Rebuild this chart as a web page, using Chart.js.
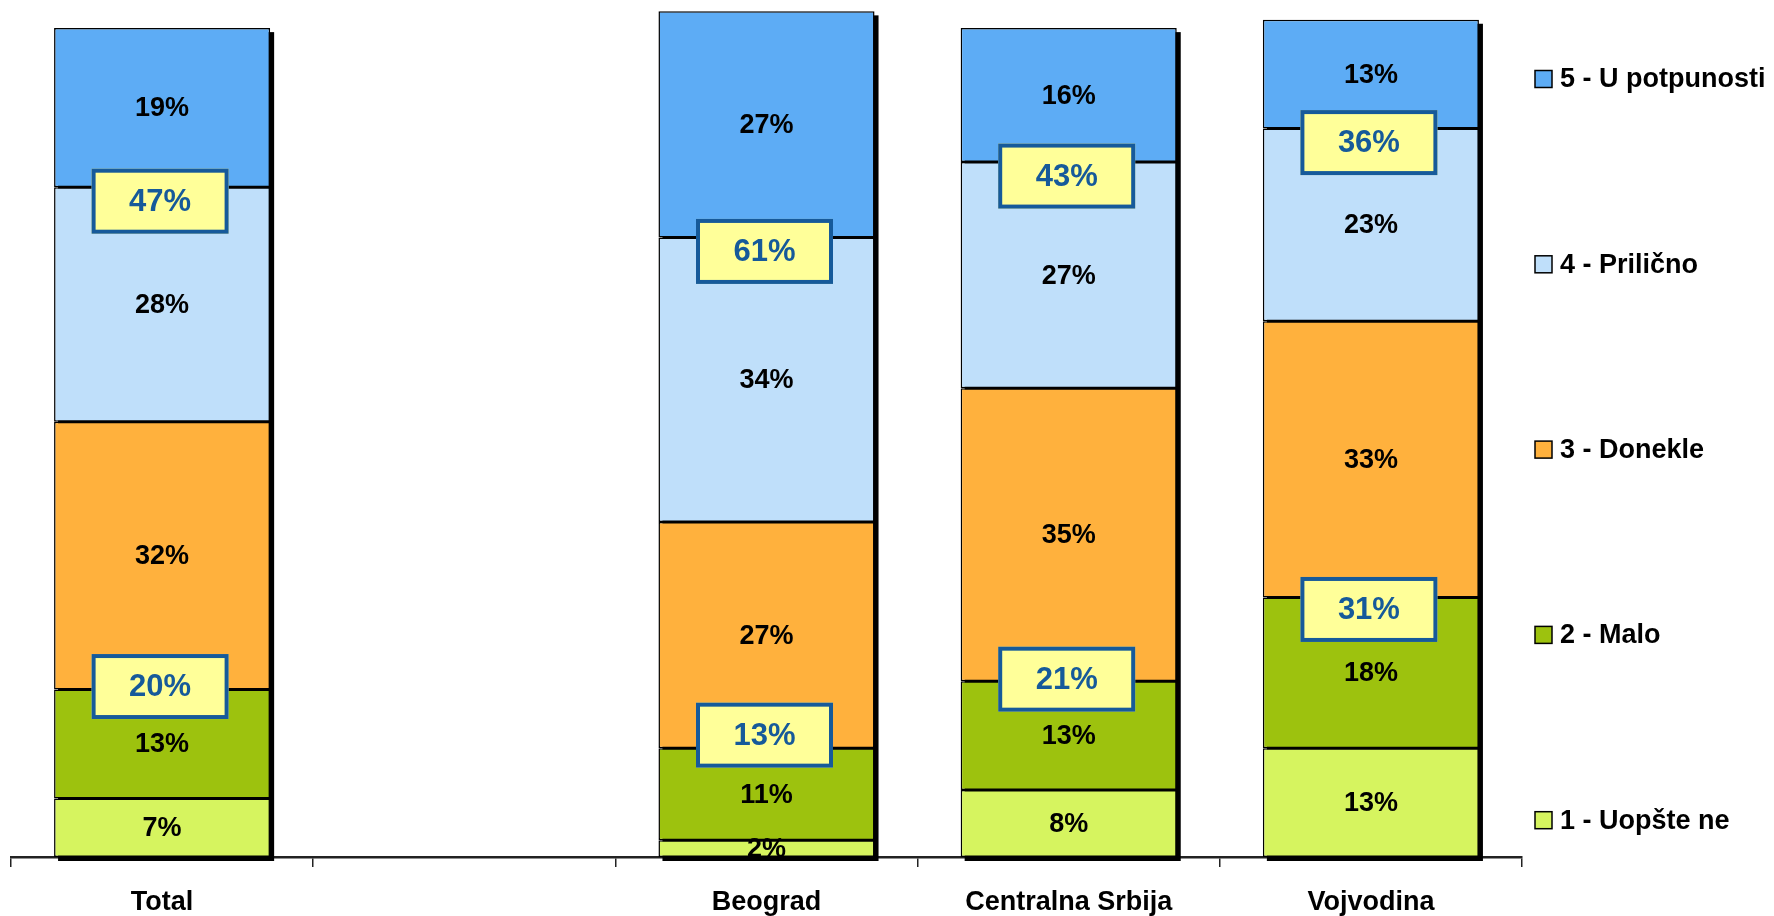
<!DOCTYPE html>
<html>
<head>
<meta charset="utf-8">
<title>Stacked bars</title>
<script src="https://cdn.jsdelivr.net/npm/chart.js@4.4.1/dist/chart.umd.min.js"></script>
<style>
  html, body { margin: 0; padding: 0; background: #fff; }
  canvas { display: block; }
</style>
</head>
<body>
<canvas id="chart" width="1774" height="916"></canvas>
<script>
const categories = ['Total', '', 'Beograd', 'Centralna Srbija', 'Vojvodina'];
const seriesNames = ['1 - Uopšte ne', '2 - Malo', '3 - Donekle', '4 - Prilično', '5 - U potpunosti'];
const uopsteNe = [7, null, 2, 8, 13];
const malo = [13, null, 11, 13, 18];
const donekle = [32, null, 27, 35, 33];
const prilicno = [28, null, 34, 27, 23];
const uPotpunosti = [19, null, 27, 16, 13];
// summed shares shown in the yellow boxes
const topTwo = [47, null, 61, 43, 36];
const bottomTwo = [20, null, 13, 21, 31];

const colors = ['#d6f45f', '#9dc20e', '#ffb13d', '#bfdffa', '#5dacf5'];
const FONT = "'Liberation Sans', Arial, sans-serif";
// hand-placed boxes in the original: small vertical nudges (px) for the lower box
const lowerBoxNudge = [-3, 0, -13, -2, 12];

const shadowPlugin = {
  id: 'shadow',
  beforeDatasetsDraw(chart) {
    const ctx = chart.ctx;
    const n = chart.data.labels.length;
    ctx.save();
    ctx.fillStyle = '#000';
    for (let i = 0; i < n; i++) {
      let top = Infinity, left = 0, width = 0, base = 0;
      chart.data.datasets.forEach((ds, d) => {
        const el = chart.getDatasetMeta(d).data[i];
        if (ds.data[i] == null || !el) return;
        if (el.y < top) top = el.y;
        left = el.x - el.width / 2; width = el.width; base = chart.scales.y.getPixelForValue(0);
      });
      if (top === Infinity) continue;
      ctx.fillRect(left + 4, top + 4, width, base - top + 0);
    }
    ctx.restore();
  }
};

const labelPlugin = {
  id: 'segLabels',
  afterDatasetsDraw(chart) {
    const ctx = chart.ctx;
    const a = chart.chartArea;
    ctx.save();
    ctx.beginPath();
    ctx.rect(a.left, a.top, a.right - a.left, a.bottom - a.top);
    ctx.clip();
    ctx.font = `bold 27px ${FONT}`;
    ctx.fillStyle = '#000';
    ctx.textAlign = 'center';
    ctx.textBaseline = 'middle';
    chart.data.datasets.forEach((ds, d) => {
      chart.getDatasetMeta(d).data.forEach((el, i) => {
        const v = ds.data[i];
        if (v == null) return;
        ctx.fillText(v + '%', el.x, (el.y + el.base) / 2 + 1);
      });
    });
    ctx.restore();

    // yellow boxes with the sums
    const drawBox = (x, y, txt) => {
      const w = 137, h = 65;
      ctx.save();
      ctx.fillStyle = '#ffff99';
      ctx.fillRect(x - w / 2, y - h / 2, w, h);
      ctx.lineWidth = 4;
      ctx.strokeStyle = '#165a9a';
      ctx.strokeRect(x - w / 2 + 2, y - h / 2 + 2, w - 4, h - 4);
      ctx.font = `bold 31px ${FONT}`;
      ctx.fillStyle = '#165a9a';
      ctx.textAlign = 'center';
      ctx.textBaseline = 'middle';
      ctx.fillText(txt, x, y + 1);
      ctx.restore();
    };
    const upper = chart.getDatasetMeta(3).data;
    const lower = chart.getDatasetMeta(1).data;
    topTwo.forEach((v, i) => {
      if (v == null) return;
      drawBox(upper[i].x - 2, upper[i].y + 14, v + '%');
    });
    bottomTwo.forEach((v, i) => {
      if (v == null) return;
      drawBox(lower[i].x - 2, lower[i].y + lowerBoxNudge[i], v + '%');
    });
  }
};

const legendPlugin = {
  id: 'sideLegend',
  afterDraw(chart) {
    const ctx = chart.ctx;
    ctx.save();
    ctx.font = `bold 27px ${FONT}`;
    ctx.textBaseline = 'middle';
    ctx.textAlign = 'left';
    const ds = chart.data.datasets;
    for (let k = 0; k < ds.length; k++) {
      const d = ds[ds.length - 1 - k];
      const y = 79 + k * 185.3;
      ctx.fillStyle = d.backgroundColor;
      ctx.fillRect(1535, y - 8.5, 17, 17);
      ctx.lineWidth = 1.5;
      ctx.strokeStyle = '#000';
      ctx.strokeRect(1535, y - 8.5, 17, 17);
      ctx.fillStyle = '#000';
      ctx.fillText(d.label, 1560, y + 1);
    }
    ctx.restore();
  }
};

const seriesValues = [uopsteNe, malo, donekle, prilicno, uPotpunosti];

new Chart(document.getElementById('chart'), {
  type: 'bar',
  data: {
    labels: categories,
    datasets: seriesNames.map((name, i) => ({
      label: name,
      data: seriesValues[i],
      backgroundColor: colors[i],
      borderColor: '#000',
      borderWidth: 1.5,
      borderSkipped: false,
      barPercentage: 0.715,
      categoryPercentage: 1
    }))
  },
  options: {
    responsive: false,
    animation: false,
    layout: { padding: { top: 3, right: 252, left: 11, bottom: 0 } },
    plugins: { legend: { display: false }, tooltip: { enabled: false } },
    scales: {
      x: {
        stacked: true,
        afterFit(scale) { scale.height = 59; },
        grid: { display: true, drawOnChartArea: false, drawTicks: true, tickLength: 10, color: '#222', lineWidth: 1.5, offset: true },
        border: { display: true, color: '#222', width: 2.5 },
        ticks: { color: '#000', font: { family: FONT, size: 27, weight: 'bold' }, padding: 19, autoSkip: false, maxRotation: 0 }
      },
      y: { stacked: true, display: false, min: 0, max: 102 }
    }
  },
  plugins: [shadowPlugin, labelPlugin, legendPlugin]
});
</script>
</body>
</html>
